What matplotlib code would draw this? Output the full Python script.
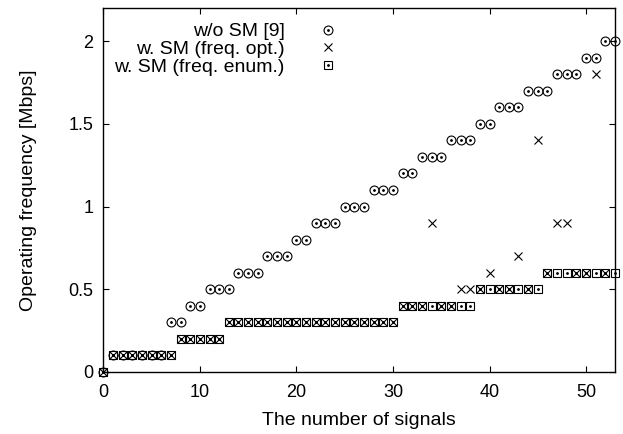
import numpy as np
import matplotlib
matplotlib.use("Agg")
import matplotlib.pyplot as plt

plt.rcParams['font.family'] = ['Liberation Sans', 'DejaVu Sans']

signals = list(range(0, 54))

# w/o SM [9]
wo_sm = ([0.0] + [0.1]*6 + [0.3]*2 + [0.4]*2 + [0.5]*3 + [0.6]*3 + [0.7]*3 +
         [0.8]*2 + [0.9]*3 + [1.0]*3 + [1.1]*3 + [1.2]*2 + [1.3]*3 + [1.4]*3 +
         [1.5]*2 + [1.6]*3 + [1.7]*3 + [1.8]*3 + [1.9]*2 + [2.0]*2)

# w. SM (freq. opt.)
freq_opt = ([0.0] + [0.1]*7 + [0.2]*5 + [0.3]*18 +
            [0.4, 0.4, 0.4, 0.9, 0.4, 0.4, 0.5, 0.5] +
            [0.5, 0.6, 0.5, 0.5, 0.7, 0.5, 1.4] +
            [0.6, 0.9, 0.9, 0.6, 0.6, 1.8, 0.6, np.nan])

# w. SM (freq. enum.)
freq_enum = ([0.0] + [0.1]*7 + [0.2]*5 + [0.3]*18 + [0.4]*8 + [0.5]*7 + [0.6]*8)

labels = ['w/o SM [9]', 'w. SM (freq. opt.)', 'w. SM (freq. enum.)']

W, H = 623, 434
fig = plt.figure(figsize=(W/100, H/100), dpi=100)
ax = fig.add_axes([0.1658, 0.1435, 0.8214, 0.8375])

ms = 6.4
mew = 0.8
c1, = ax.plot(signals, wo_sm, ls='none', marker='o', ms=ms, mfc='none', mec='black', mew=mew, clip_on=False)
d1, = ax.plot(signals, wo_sm, ls='none', marker='.', ms=2.0, color='black', clip_on=False)
x2, = ax.plot(signals, freq_opt, ls='none', marker='x', ms=ms*0.95, color='black', mew=mew, clip_on=False)
b3, = ax.plot(signals, freq_enum, ls='none', marker='s', ms=ms*0.92, mfc='none', mec='black', mew=mew, clip_on=False)
d3, = ax.plot(signals, freq_enum, ls='none', marker='.', ms=2.0, color='black', clip_on=False)

ax.set_xlim(0, 53)
ax.set_ylim(0, 2.2)
ax.set_xticks([0, 10, 20, 30, 40, 50])
ax.set_yticks([0, 0.5, 1, 1.5, 2])
ax.set_yticklabels(['0', '0.5', '1', '1.5', '2'])
ax.tick_params(axis='both', direction='in', length=4, width=0.8, top=True, right=True, labelsize=13)
ax.tick_params(axis='x', pad=9)
ax.tick_params(axis='y', pad=7)
for s in ax.spines.values():
    s.set_linewidth(1.0)

ax.set_xlabel('The number of signals', fontsize=14, labelpad=8)
ax.set_ylabel('Operating frequency [Mbps]', fontsize=14, labelpad=23)

leg = fig.legend([(c1, d1), x2, (b3, d3)], labels, loc='upper right',
                 bbox_to_anchor=(355/W, 1 - 15/H), bbox_transform=fig.transFigure,
                 frameon=False, markerfirst=False, borderaxespad=0,
                 fontsize=14, handlelength=2.0, handletextpad=1.21, labelspacing=0.0,
                 alignment='right')

fig.savefig('out.png', dpi=100)
